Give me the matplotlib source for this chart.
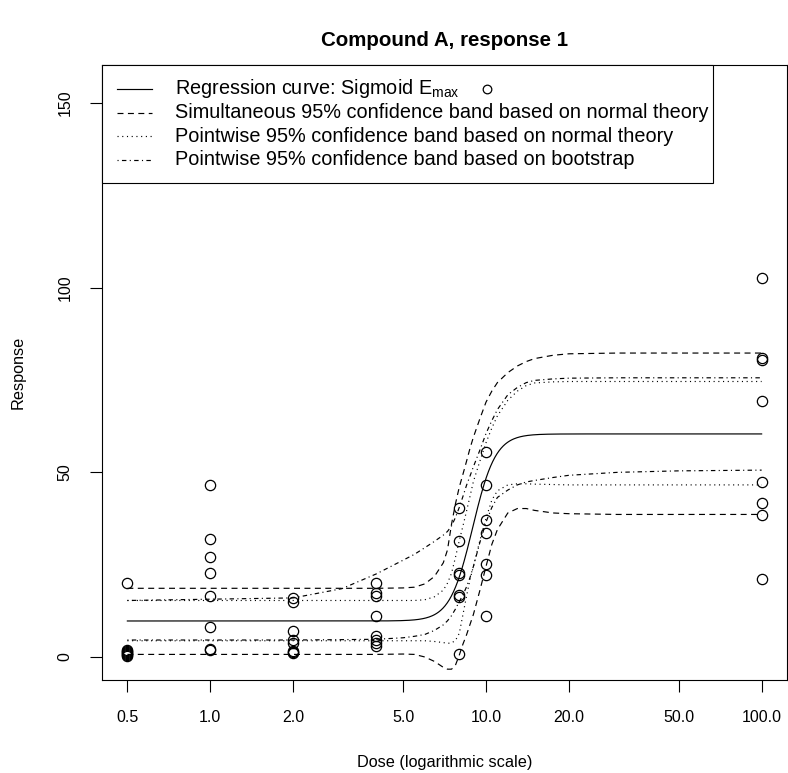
import numpy as np
import matplotlib
matplotlib.use('Agg')
import matplotlib.pyplot as plt
from matplotlib.patches import Rectangle
from matplotlib.lines import Line2D
from matplotlib.ticker import NullLocator

plt.rcParams['font.family'] = 'Liberation Sans'
plt.rcParams['mathtext.fontset'] = 'custom'
plt.rcParams['mathtext.rm'] = 'Liberation Sans'
plt.rcParams['mathtext.it'] = 'Liberation Sans:italic'
plt.rcParams['lines.scale_dashes'] = False

# observed responses per dose group
dose_levels = [0.5, 1.0, 2.0, 4.0, 8.0, 10.0, 100.0]
resp_d05 = [20.0, 2.0, 1.7, 1.4, 1.1, 0.8, 0.5, 0.3]
resp_d1 = [46.6, 31.9, 27.1, 22.7, 16.6, 8.2, 2.2, 1.9]
resp_d2 = [16.1, 15.0, 7.1, 4.6, 3.9, 1.6, 1.3, 1.0]
resp_d4 = [20.0, 17.2, 16.6, 11.0, 5.7, 4.6, 3.9, 3.0]
resp_d8 = [40.3, 31.5, 22.7, 22.3, 16.8, 16.2, 0.8]
resp_d10 = [55.4, 46.6, 37.1, 33.5, 25.1, 22.2, 11.1]
resp_d100 = [102.5, 81.0, 80.4, 69.4, 47.5, 41.8, 38.5, 21.1]
responses = [resp_d05, resp_d1, resp_d2, resp_d4, resp_d8, resp_d10, resp_d100]

# fitted sigmoid Emax parameters
e0, emax, ed50, hill = 9.75, 50.65, 8.95, 10.5

# confidence bands evaluated on a dose grid
band_dose = [0.5, 2, 3, 4, 5, 5.5, 6, 6.5, 7, 7.25, 7.5, 7.75, 8, 8.25, 8.5,
             8.75, 9, 9.5, 10, 10.5, 11, 12, 13, 14, 15, 17.5, 20, 30, 50, 100]
sim_upper = [18.6, 18.6, 18.6, 18.6, 18.7, 18.9, 19.8, 21.8, 25.5, 29.0, 36.0,
             41.5, 46.0, 49.5, 53.0, 56.5, 59.5, 64.5, 69.0, 72.0, 74.3, 77.0,
             78.8, 80.0, 80.8, 81.7, 82.1, 82.3, 82.3, 82.3]
sim_lower = [0.7, 0.7, 0.7, 0.7, 0.8, 0.7, 0.0, -1.2, -2.8, -3.3, -3.3, -2.2,
             0.5, 3.5, 6.0, 8.8, 11.5, 18.0, 24.5, 30.5, 34.5, 39.0, 40.2,
             40.2, 39.7, 39.0, 38.8, 38.6, 38.6, 38.6]
pw_upper = [15.3, 15.3, 15.3, 15.3, 15.3, 15.3, 15.5, 16.3, 18.1, 20.0, 22.7,
            27.0, 31.5, 35.5, 39.5, 43.5, 47.5, 53.0, 58.0, 62.0, 65.3, 69.5,
            72.0, 73.5, 74.2, 74.5, 74.6, 74.6, 74.6, 74.6]
pw_lower = [4.4, 4.4, 4.4, 4.4, 4.4, 4.4, 4.4, 4.2, 3.9, 3.7, 3.8, 4.5, 6.4,
            11.5, 16.5, 21.0, 24.5, 31.5, 37.5, 42.5, 45.0, 46.6, 46.9, 46.9,
            46.8, 46.7, 46.6, 46.6, 46.6, 46.6]
boot_upper = [15.3, 16.0, 18.5, 22.5, 26.2, 27.8, 29.6, 31.3, 33.0, 34.0, 35.5,
              37.8, 40.5, 43.5, 46.5, 49.0, 51.5, 56.0, 60.5, 64.0, 67.0, 71.0,
              73.0, 74.3, 74.9, 75.3, 75.5, 75.6, 75.6, 75.6]
boot_lower = [4.6, 4.6, 4.7, 4.8, 5.2, 5.6, 6.1, 7.2, 8.7, 9.8, 11.2, 13.0,
              15.0, 16.8, 19.0, 21.5, 24.5, 31.0, 36.5, 40.5, 43.2, 45.2, 46.6,
              47.4, 47.8, 48.6, 49.2, 50.0, 50.4, 50.6]

xticks = [0.5, 1, 2, 5, 10, 20, 50, 100]
xtick_labels = ['0.5', '1.0', '2.0', '5.0', '10.0', '20.0', '50.0', '100.0']
yticks = [0, 50, 100, 150]

legend_labels = ['Regression curve: Sigmoid E$_{\\mathrm{max}}$',
                 'Simultaneous 95% confidence band based on normal theory',
                 'Pointwise 95% confidence band based on normal theory',
                 'Pointwise 95% confidence band based on bootstrap']

W, H = 788, 773
fig = plt.figure(figsize=(W / 100, H / 100), dpi=100)
ax = fig.add_axes([102 / W, 1 - 680 / H, (787 - 102) / W, (680 - 65) / H])


def fx(px):
    return px / W


def fy(py):
    return 1 - py / H


dashed = (4.3, 3.2)
dotted = (0.8, 2.6)
dashdot = (0.8, 2.4, 3.2, 2.4)
lw = 0.85

# regression curve
d = np.logspace(np.log10(0.5), 2, 600)
fit = e0 + emax * d ** hill / (ed50 ** hill + d ** hill)
ax.plot(d, fit, color='black', lw=lw)

ax.plot(band_dose, sim_upper, color='black', lw=lw, dashes=dashed)
ax.plot(band_dose, sim_lower, color='black', lw=lw, dashes=dashed)
ax.plot(band_dose, pw_upper, color='black', lw=lw, dashes=dotted)
ax.plot(band_dose, pw_lower, color='black', lw=lw, dashes=dotted)
ax.plot(band_dose, boot_upper, color='black', lw=lw, dashes=dashdot)
ax.plot(band_dose, boot_lower, color='black', lw=lw, dashes=dashdot)

for dose, resp in zip(dose_levels, responses):
    ax.plot([dose] * len(resp), resp, 'o', mfc='none', mec='black',
            ms=7.4, mew=0.9, ls='none', zorder=3)

ax.set_xscale('log')
ax.set_xlim(10 ** -0.39307, 10 ** 2.09204)
ax.set_ylim(-6.23, 160.3)
ax.set_xticks(xticks)
ax.set_xticklabels(xtick_labels)
ax.xaxis.set_minor_locator(NullLocator())
ax.set_yticks(yticks)
ax.set_yticklabels([str(v) for v in yticks], rotation=90, va='center')
ax.tick_params(length=8.6, width=0.8, direction='out', labelsize=11.5,
               colors='black')
ax.tick_params(axis='x', pad=13)
ax.tick_params(axis='y', pad=12.5)
for sp in ax.spines.values():
    sp.set_linewidth(0.8)

# legend box
fig.add_artist(Rectangle((fx(102), fy(183)), fx(713) - fx(102), fy(65) - fy(183),
                         transform=fig.transFigure, facecolor='white',
                         edgecolor='black', lw=0.8))
rows = [89, 112.5, 136, 159.5]
styles = [None, dashed, dotted, dashdot]
for row, style, label in zip(rows, styles, legend_labels):
    ln = Line2D([fx(117), fx(152)], [fy(row), fy(row)],
                transform=fig.transFigure, color='black', lw=lw)
    if style is not None:
        ln.set_dashes(style)
    fig.add_artist(ln)
    fig.text(fx(175), fy(row), label, va='center', ha='left', fontsize=14.3)
fig.add_artist(Line2D([fx(487)], [fy(89)], transform=fig.transFigure,
                      marker='o', mfc='none', mec='black', ms=6.2, mew=0.9))

fig.text(fx(444.5), fy(40), 'Compound A, response 1', ha='center',
         va='center', fontsize=14.8, fontweight='bold')
fig.text(fx(444.5), fy(762), 'Dose (logarithmic scale)', ha='center',
         va='center', fontsize=11.7)
fig.text(fx(18), fy(372.5), 'Response', ha='center', va='center',
         rotation=90, fontsize=11.7)

fig.savefig('out.png', dpi=100)
